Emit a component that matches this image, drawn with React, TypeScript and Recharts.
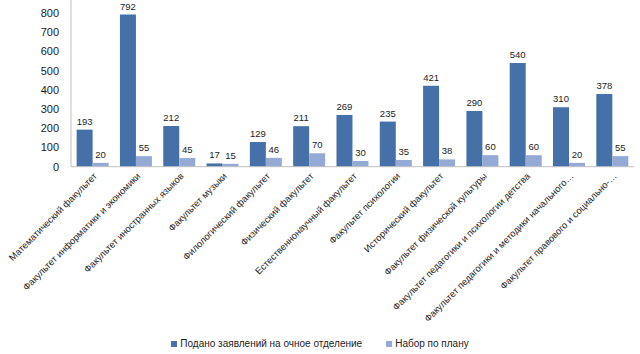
import React from "react";
import { BarChart, Bar, XAxis, YAxis, LabelList, Legend } from "recharts";

const categories = [
  "Математический факультет",
  "Факультет информатики и экономики",
  "Факультет иностранных языков",
  "Факультет музыки",
  "Филологический факультет",
  "Физический факультет",
  "Естественнонаучный факультет",
  "Факультет психологии",
  "Исторический факультет",
  "Факультет физической культуры",
  "Факультет педагогики и психологии детства",
  "Факультет педагогики и методики начального…",
  "Факультет правового и социально-…",
];
const applications = [193, 792, 212, 17, 129, 211, 269, 235, 421, 290, 540, 310, 378];
const plan = [20, 55, 45, 15, 46, 70, 30, 35, 38, 60, 60, 20, 55];
const yTicks = [0, 100, 200, 300, 400, 500, 600, 700, 800];
const seriesNames = ["Подано заявлений на очное отделение", "Набор по плану"];

const data = categories.map((c, i) => ({ name: c, a: applications[i], b: plan[i] }));

const DARK = "#4571A8";
const LIGHT = "#94AAD4";
const FONT = "'Liberation Sans', Arial, sans-serif";

const XTick = (props: any) => {
  const { x, y, payload } = props;
  const ax = x + 5;
  const ay = y + 10;
  return (
    <text
      x={ax}
      y={ay}
      transform={`rotate(-45, ${ax}, ${ay})`}
      textAnchor="end"
      fontSize={9.4}
      fontFamily={FONT}
      fill="#222"
    >
      {payload.value}
    </text>
  );
};

const LegendContent = () => (
  <div
    style={{
      display: "flex",
      justifyContent: "center",
      fontFamily: FONT,
      fontSize: 10,
      lineHeight: "12px",
      color: "#222",
      gap: 24,
    }}
  >
    {[DARK, LIGHT].map((c, i) => (
      <div key={i} style={{ display: "flex", alignItems: "center" }}>
        <span style={{ display: "inline-block", width: 6, height: 6, background: c, marginRight: 3 }} />
        <span>{seriesNames[i]}</span>
      </div>
    ))}
  </div>
);

export default function App() {
  return (
    <div style={{ position: "absolute", left: 0, top: 0, width: 640, height: 354, overflow: "hidden", background: "#fff" }}>
      <div style={{ position: "absolute", left: 0, top: -20 }}>
        <BarChart
          width={640}
          height={374}
          data={data}
          margin={{ top: 13.8, right: 6, left: 0, bottom: 0 }}
          barCategoryGap="13%"
          barGap={0}
        >
          <XAxis
            dataKey="name"
            interval={0}
            height={187.3}
            tickLine={false}
            tickSize={0}
            tickMargin={0}
            tick={<XTick />}
            axisLine={{ stroke: "#BFBFBF" }}
          />
          <YAxis
            width={71}
            domain={[0, 900]}
            ticks={yTicks}
            interval={0}
            tickLine={false}
            tickSize={0}
            tickMargin={12}
            axisLine={{ stroke: "#BFBFBF" }}
            tick={{ fontSize: 11, fontFamily: FONT, fill: "#222" }}
          />
          <Legend
            layout="horizontal"
            verticalAlign="middle"
            align="center"
            wrapperStyle={{ top: 358, left: 0, width: 640 }}
            content={<LegendContent />}
          />
          <Bar dataKey="a" name={seriesNames[0]} fill={DARK} isAnimationActive={false}>
            <LabelList dataKey="a" position="top" offset={5} fontSize={9.5} fontFamily={FONT} fill="#222" />
          </Bar>
          <Bar dataKey="b" name={seriesNames[1]} fill={LIGHT} isAnimationActive={false}>
            <LabelList dataKey="b" position="top" offset={5} fontSize={9.5} fontFamily={FONT} fill="#222" />
          </Bar>
        </BarChart>
      </div>
    </div>
  );
}
